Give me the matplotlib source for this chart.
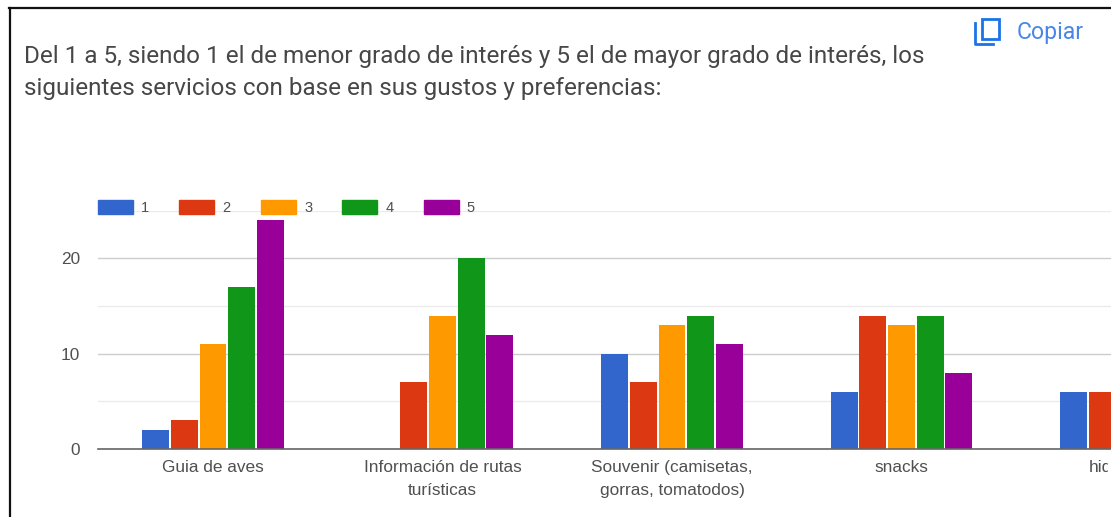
import matplotlib
matplotlib.use('Agg')
import matplotlib.pyplot as plt
from matplotlib.patches import Patch, Rectangle
from matplotlib.lines import Line2D
from matplotlib.transforms import Bbox
import numpy as np

categories = ['Guia de aves', 'Información de rutas\nturísticas',
              'Souvenir (camisetas,\ngorras, tomatodos)', 'snacks', 'hidratación']
series_names = ['1', '2', '3', '4', '5']
# the last group is cut off by the screenshot, only two of its bars can be read
s1 = [2, 0, 10, 6, 6]
s2 = [3, 7, 7, 14, 6]
s3 = [11, 14, 13, 13, np.nan]
s4 = [17, 20, 14, 14, np.nan]
s5 = [24, 12, 11, 8, np.nan]
series = [s1, s2, s3, s4, s5]
colors = ['#3366cc', '#dc3912', '#ff9900', '#109618', '#990099']

W, H = 1111, 517
fig = plt.figure(figsize=(W / 100, H / 100), dpi=100)

def fx(px):
    return px / W

def fy(px):
    return 1 - px / H

# axes runs past the right edge of the figure, the chart is cut off there
left, right, top, bottom = 98, 1160, 210.7, 449
ax = fig.add_axes([fx(left), fy(bottom), fx(right - left), (bottom - top) / H])
step = 229.5
x = np.arange(len(categories))
bw = 28.6 / step
for i, vals in enumerate(series):
    ax.bar(x + (i - 2) * bw, vals, width=bw * 0.94, color=colors[i], zorder=3)

for sp in ['top', 'right', 'left']:
    ax.spines[sp].set_visible(False)
ax.spines['bottom'].set_color('#666666')
ax.spines['bottom'].set_linewidth(1.2)
ax.spines['bottom'].set_zorder(4)

ax.set_yticks([0, 10, 20])
ax.set_yticks([5, 15, 25], minor=True)
ax.grid(axis='y', which='major', color='#cccccc', linewidth=1, zorder=0)
ax.grid(axis='y', which='minor', color='#ebebeb', linewidth=1, zorder=0)
ax.tick_params(axis='both', which='both', length=0)
ax.tick_params(axis='y', pad=13, labelsize=12.4, labelcolor='#505050')
ax.set_xticks(x)
ax.set_xticklabels(categories, fontsize=12.4, color='#505050', linespacing=1.65)
ax.tick_params(axis='x', pad=8)
ax.set_ylim(0, 25)
ax.set_xlim((left - 213) / step, (right - 213) / step)
for lab in ax.get_xticklabels() + ax.get_yticklabels():
    lab.set_family('Liberation Sans')
    lab.set_clip_on(True)
    lab.set_clip_box(Bbox([[0, 0], [1108, H]]))

handles = [Patch(color=c, label=n) for c, n in zip(colors, series_names)]
leg = fig.legend(handles=handles, loc='center left', bbox_to_anchor=(fx(98), fy(207.5)), ncol=5,
                 frameon=False, borderpad=0, borderaxespad=0,
                 handlelength=2.4, handleheight=1.03, handletextpad=0.55, columnspacing=2.08,
                 labelcolor='#505050', prop={'family': 'Liberation Sans', 'size': 10.5})

title = ['Del 1 a 5, siendo 1 el de menor grado de interés y 5 el de mayor grado de interés, los',
         'siguientes servicios con base en sus gustos y preferencias:']
fig.text(fx(24), fy(57), title[0], family='Roboto', fontsize=17.5, color='#474747', va='center')
fig.text(fx(24), fy(89), title[1], family='Roboto', fontsize=17.5, color='#474747', va='center')

# screenshot frame
fig.add_artist(Line2D([fx(10), fx(10)], [fy(517), fy(8)], color='#111111', lw=1.6))
fig.add_artist(Line2D([fx(9), fx(1111)], [fy(8), fy(8)], color='#111111', lw=1.6))

# copy button
blue = '#1a73e8'
fig.add_artist(Rectangle((fx(982.5), fy(38.5)), fx(16), 20 / H, fill=False, ec=blue, lw=2,
                         transform=fig.transFigure))
fig.add_artist(Line2D([fx(975), fx(975), fx(993)], [fy(23), fy(44), fy(44)], color=blue, lw=2))
fig.text(fx(1017), fy(33), 'Copiar', family='Roboto', fontsize=16.6, color='#4a86e8', va='center')

fig.savefig('out.png', dpi=100)
